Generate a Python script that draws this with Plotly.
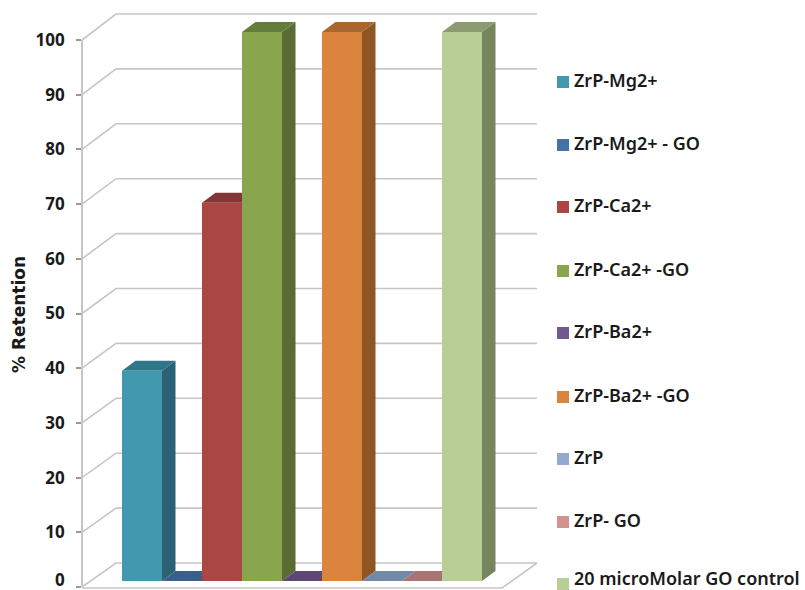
import plotly.graph_objects as go

series_names = ["ZrP-Mg2+", "ZrP-Mg2+ - GO", "ZrP-Ca2+", "ZrP-Ca2+ -GO", "ZrP-Ba2+",
                "ZrP-Ba2+ -GO", "ZrP", "ZrP- GO", "20 microMolar GO control"]
retention = [38.3, 0, 68.9, 100, 0, 100, 0, 0, 100]
front_colors = ["#4198AF", "#4672A8", "#AA4643", "#89A54E", "#71588F", "#DB843D", "#93A9CF", "#D19392", "#B9CD96"]
side_colors = ["#2A6274", "#2F4C70", "#6E2E2C", "#5A6B33", "#4A395D", "#8E5626", "#5F6E87", "#885F5F", "#77855F"]
top_colors = ["#31758A", "#3B5F8A", "#843634", "#667C3A", "#5C4776", "#A9672F", "#7389A9", "#A67574", "#8D9C70"]
tick_values = list(range(0, 101, 10))

W, H = 805, 590
PX_PER_SLOT = 40.0
PX_PER_UNIT = 5.49
X0_PX, Y0_PX = 142.0, 581.0           # centre of first slot, bar baseline


def dx(px):
    return (px - X0_PX) / PX_PER_SLOT


def dy(py):
    return (Y0_PX - py) / PX_PER_UNIT


x_range = [dx(0), dx(W)]
y_range = [dy(H), dy(0)]
BAR_DX = 13.5 / PX_PER_SLOT
BAR_DY = 10 / PX_PER_UNIT
GRID = "#C6C6C6"

fig = go.Figure()


def line(xs, ys, color=GRID, width=1.6):
    fig.add_trace(go.Scatter(x=xs, y=ys, mode="lines", line=dict(color=color, width=width),
                             hoverinfo="skip", showlegend=False, xaxis="x", yaxis="y"))


# chart walls and floor
for v in tick_values:
    f_y = dy(587 - 5.47 * v)
    b_y = dy(563 - 5.49 * v)
    line([dx(82), dx(116), dx(537)], [f_y, b_y, b_y])
line([dx(82), dx(502), dx(537)], [dy(588), dy(588), dy(563)])

# side and top faces of the bars
for i, v in enumerate(retention):
    l, r = i - 0.5, i + 0.5
    fig.add_trace(go.Scatter(x=[r, r + BAR_DX, r + BAR_DX, r, r], y=[0, BAR_DY, v + BAR_DY, v, 0],
                             mode="lines", fill="toself", fillcolor=side_colors[i], line=dict(width=0),
                             hoverinfo="skip", showlegend=False, xaxis="x", yaxis="y"))
    fig.add_trace(go.Scatter(x=[l, r, r + BAR_DX, l + BAR_DX, l], y=[v, v, v + BAR_DY, v + BAR_DY, v],
                             mode="lines", fill="toself", fillcolor=top_colors[i], line=dict(width=0),
                             hoverinfo="skip", showlegend=False, xaxis="x", yaxis="y"))

# front faces
for i, v in enumerate(retention):
    fig.add_trace(go.Bar(x=[i], y=[v], width=1, name=series_names[i], marker=dict(color=front_colors[i], line=dict(width=0)),
                         showlegend=False, xaxis="x2", yaxis="y2"))

# value axis carrier
fig.add_trace(go.Scatter(x=[0, 0], y=[0, 100], mode="markers", marker=dict(opacity=0), hoverinfo="skip",
                         showlegend=False, xaxis="x", yaxis="y3"))

# legend
legend_y_px = [82, 145, 207, 271, 333, 397, 459, 522, 584]
fig.add_trace(go.Scatter(x=[dx(563)] * len(series_names), y=[dy(p) for p in legend_y_px], mode="markers",
                         marker=dict(symbol="square", size=12, color=front_colors, line=dict(width=0)),
                         cliponaxis=False, hoverinfo="skip", showlegend=False, xaxis="x2", yaxis="y2"))
annotations = [dict(x=dx(574), y=dy(min(p - 2, 578)), xref="x", yref="y", text=n, showarrow=False, xanchor="left", yanchor="middle",
                    xshift=-2, font=dict(family="Noto Sans", size=18, color="#1A1A1A", weight=600))
               for n, p in zip(series_names, legend_y_px)]
annotations.append(dict(x=19 / W, y=(H - 315) / H, xref="paper", yref="paper", text="% Retention", textangle=-90, showarrow=False,
                        xanchor="center", yanchor="middle",
                        font=dict(family="DejaVu Sans", size=17, color="#1A1A1A", weight="bold")))
# the lowest tick label sits at the page edge, where the axis itself drops it
annotations.append(dict(x=67 / W, y=(H - 579) / H, xref="paper", yref="paper", text=str(tick_values[0]), showarrow=False,
                        xanchor="right", yanchor="middle",
                        font=dict(family="Noto Sans", size=17, color="#1A1A1A", weight="bold")))

hidden = dict(visible=False, showgrid=False, zeroline=False, fixedrange=True)
fig.update_layout(
    width=W, height=H, autosize=False, margin=dict(l=0, r=0, t=0, b=0, autoexpand=False),
    paper_bgcolor="white", plot_bgcolor="rgba(0,0,0,0)", barmode="overlay", showlegend=False,
    annotations=annotations,
    xaxis=dict(hidden, range=x_range, domain=[0, 1]),
    yaxis=dict(hidden, range=y_range, domain=[0, 1]),
    xaxis2=dict(hidden, range=x_range, overlaying="x"),
    yaxis2=dict(hidden, range=y_range, overlaying="y"),
    yaxis3=dict(domain=[(H - 587) / H, (H - 40) / H], range=[0, 100], anchor="free", position=82 / W,
                tickmode="array", tickvals=tick_values, ticks="outside", ticklen=5, tickcolor="#9A9A9A", tickwidth=1.5,
                showline=True, linecolor=GRID, linewidth=1.6, showgrid=False, zeroline=False, ticklabelstandoff=8,
                tickfont=dict(family="Noto Sans", size=17, color="#1A1A1A", weight="bold"), fixedrange=True),
)
fig.write_html("out.html", config=dict(displayModeBar=False),
               post_script="document.body.style.margin='0';document.body.style.padding='0';")
